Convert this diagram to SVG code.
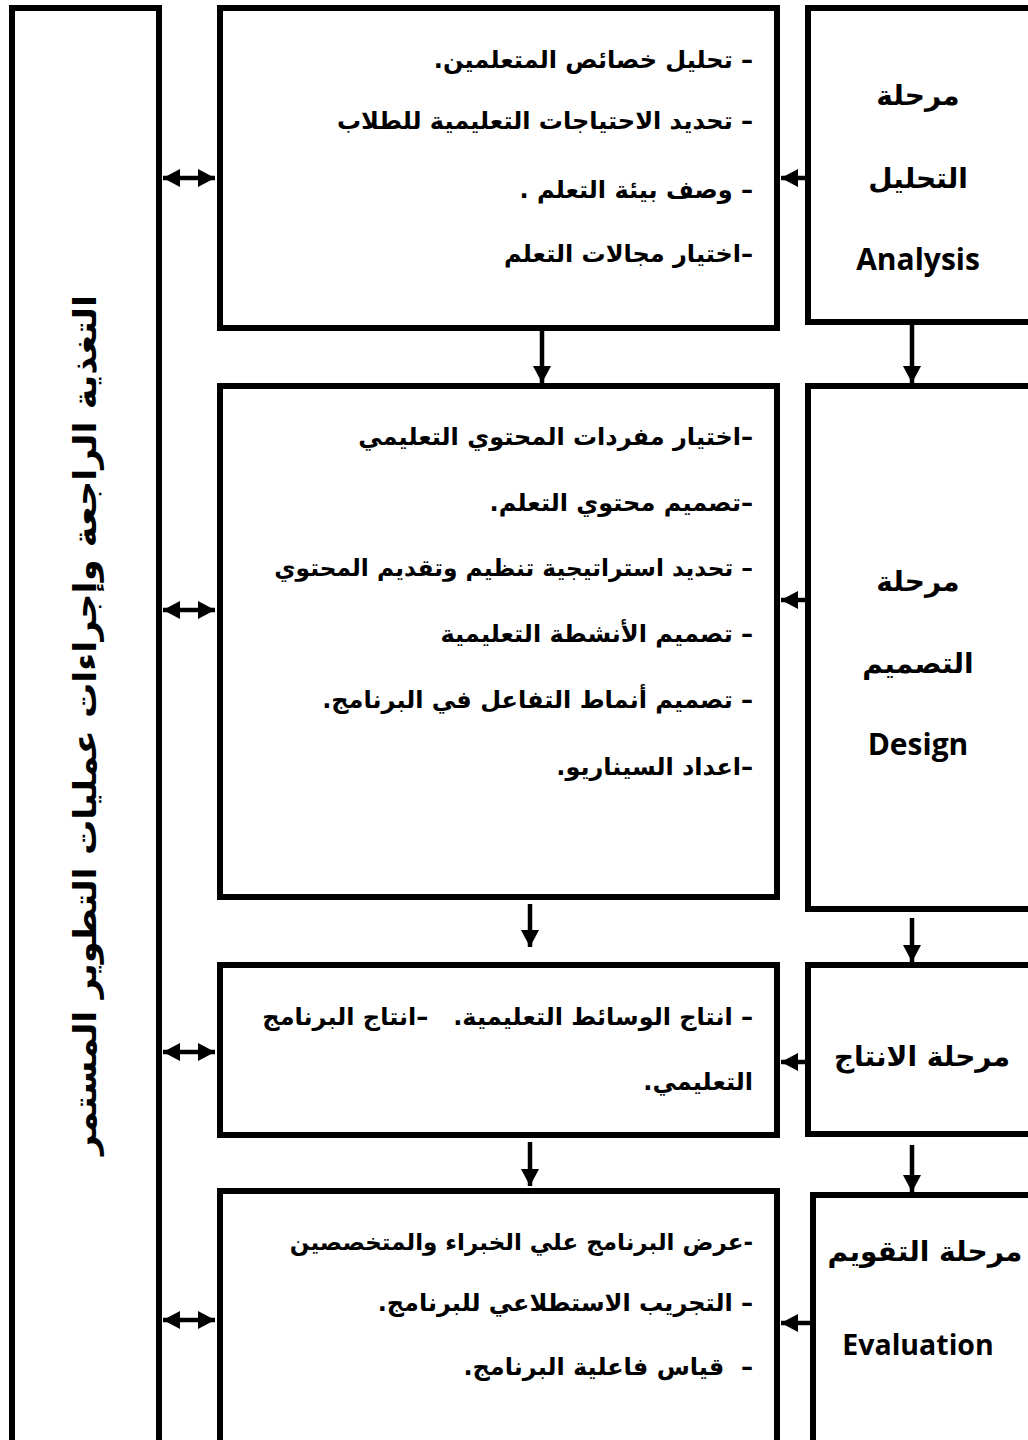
<svg xmlns="http://www.w3.org/2000/svg" width="1028" height="1440" viewBox="0 0 1028 1440">
<style>
.box{fill:#fff;stroke:#000;stroke-width:6}
.ln{stroke:#000;stroke-width:4.5;fill:none}
.t{font-family:"DejaVu Sans","Liberation Sans",sans-serif;font-weight:bold;font-size:24px;fill:#000;direction:rtl;text-anchor:start;white-space:pre}
.h{font-family:"DejaVu Sans","Liberation Sans",sans-serif;font-weight:bold;font-size:28px;fill:#000;text-anchor:middle}
.e{font-family:"Open Sans",Lato,sans-serif;font-weight:bold;font-size:30px;fill:#000;text-anchor:middle}
.v{font-family:"DejaVu Sans","Liberation Sans",sans-serif;font-weight:bold;font-size:32px;fill:#000;text-anchor:middle}
</style>
<defs>
<marker id="ah" markerUnits="userSpaceOnUse" markerWidth="18" markerHeight="20" refX="17" refY="10" orient="auto-start-reverse" viewBox="0 0 18 20">
<path d="M0,1 L17,10 L0,19 Z" fill="#000"/>
</marker>
</defs>
<rect width="1028" height="1440" fill="#fff"/>

<g id="feedback">
<rect class="box" x="12" y="8" width="147" height="1460"/>
<text class="v" transform="translate(82,725) rotate(-90)" style="direction:rtl" y="14" textLength="860" lengthAdjust="spacingAndGlyphs">التغذية الراجعة وإجراءات عمليات التطوير المستمر</text>
</g>

<g id="analysis-tasks">
<rect class="box" x="220" y="8" width="557" height="320"/>
<text class="t" x="753" y="68">– تحليل خصائص المتعلمين.</text>
<text class="t" x="753" y="129">– تحديد الاحتياجات التعليمية للطلاب</text>
<text class="t" x="753" y="198">– وصف بيئة التعلم .</text>
<text class="t" x="753" y="262">–اختيار مجالات التعلم</text>
</g>

<g id="analysis">
<rect class="box" x="808" y="8" width="240" height="314"/>
<text class="h" x="918" y="105">مرحلة</text>
<text class="h" x="918" y="188">التحليل</text>
<text class="e" x="918" y="270">Analysis</text>
</g>

<g id="design-tasks">
<rect class="box" x="220" y="386" width="557" height="511"/>
<text class="t" x="753" y="445">–اختيار مفردات المحتوي التعليمي</text>
<text class="t" x="753" y="511">–تصميم محتوي التعلم.</text>
<text class="t" x="753" y="576" style="font-size:23.3px">– تحديد استراتيجية تنظيم وتقديم المحتوي</text>
<text class="t" x="753" y="642">– تصميم الأنشطة التعليمية</text>
<text class="t" x="753" y="708">– تصميم أنماط التفاعل في البرنامج.</text>
<text class="t" x="753" y="775">–اعداد السيناريو.</text>
</g>

<g id="design">
<rect class="box" x="808" y="386" width="240" height="523"/>
<text class="h" x="918" y="591">مرحلة</text>
<text class="h" x="918" y="673">التصميم</text>
<text class="e" x="918" y="755">Design</text>
</g>

<g id="production-tasks">
<rect class="box" x="220" y="965" width="557" height="170"/>
<text class="t" x="753" y="1025">– انتاج الوسائط التعليمية.   –انتاج البرنامج</text>
<text class="t" x="753" y="1090">التعليمي.</text>
</g>

<g id="production">
<rect class="box" x="808" y="965" width="240" height="169"/>
<text class="h" x="922" y="1066">مرحلة الانتاج</text>
</g>

<g id="evaluation-tasks">
<rect class="box" x="220" y="1191" width="557" height="300"/>
<text class="t" x="753" y="1250" style="font-size:23px">-عرض البرنامج علي الخبراء والمتخصصين</text>
<text class="t" x="753" y="1311">– التجريب الاستطلاعي للبرنامج.</text>
<text class="t" x="753" y="1375">–  قياس فاعلية البرنامج.</text>
</g>

<g id="evaluation">
<rect class="box" x="813" y="1195" width="240" height="300"/>
<text class="h" x="925" y="1261">مرحلة التقويم</text>
<text class="e" x="918" y="1355" style="font-size:28.5px">Evaluation</text>
</g>

<g id="connectors">
<line class="ln" x1="163" y1="178" x2="215" y2="178" marker-start="url(#ah)" marker-end="url(#ah)"/>
<line class="ln" x1="163" y1="610" x2="215" y2="610" marker-start="url(#ah)" marker-end="url(#ah)"/>
<line class="ln" x1="163" y1="1052" x2="215" y2="1052" marker-start="url(#ah)" marker-end="url(#ah)"/>
<line class="ln" x1="163" y1="1320" x2="215" y2="1320" marker-start="url(#ah)" marker-end="url(#ah)"/>
<line class="ln" x1="806" y1="178" x2="781" y2="178" marker-end="url(#ah)"/>
<line class="ln" x1="806" y1="600" x2="781" y2="600" marker-end="url(#ah)"/>
<line class="ln" x1="806" y1="1062" x2="781" y2="1062" marker-end="url(#ah)"/>
<line class="ln" x1="811" y1="1323" x2="781" y2="1323" marker-end="url(#ah)"/>
<line class="ln" x1="542" y1="331" x2="542" y2="383" marker-end="url(#ah)"/>
<line class="ln" x1="912" y1="325" x2="912" y2="383" marker-end="url(#ah)"/>
<line class="ln" x1="530" y1="904" x2="530" y2="947" marker-end="url(#ah)"/>
<line class="ln" x1="912" y1="918" x2="912" y2="962" marker-end="url(#ah)"/>
<line class="ln" x1="530" y1="1142" x2="530" y2="1186" marker-end="url(#ah)"/>
<line class="ln" x1="912" y1="1145" x2="912" y2="1192" marker-end="url(#ah)"/>
</g>
</svg>
